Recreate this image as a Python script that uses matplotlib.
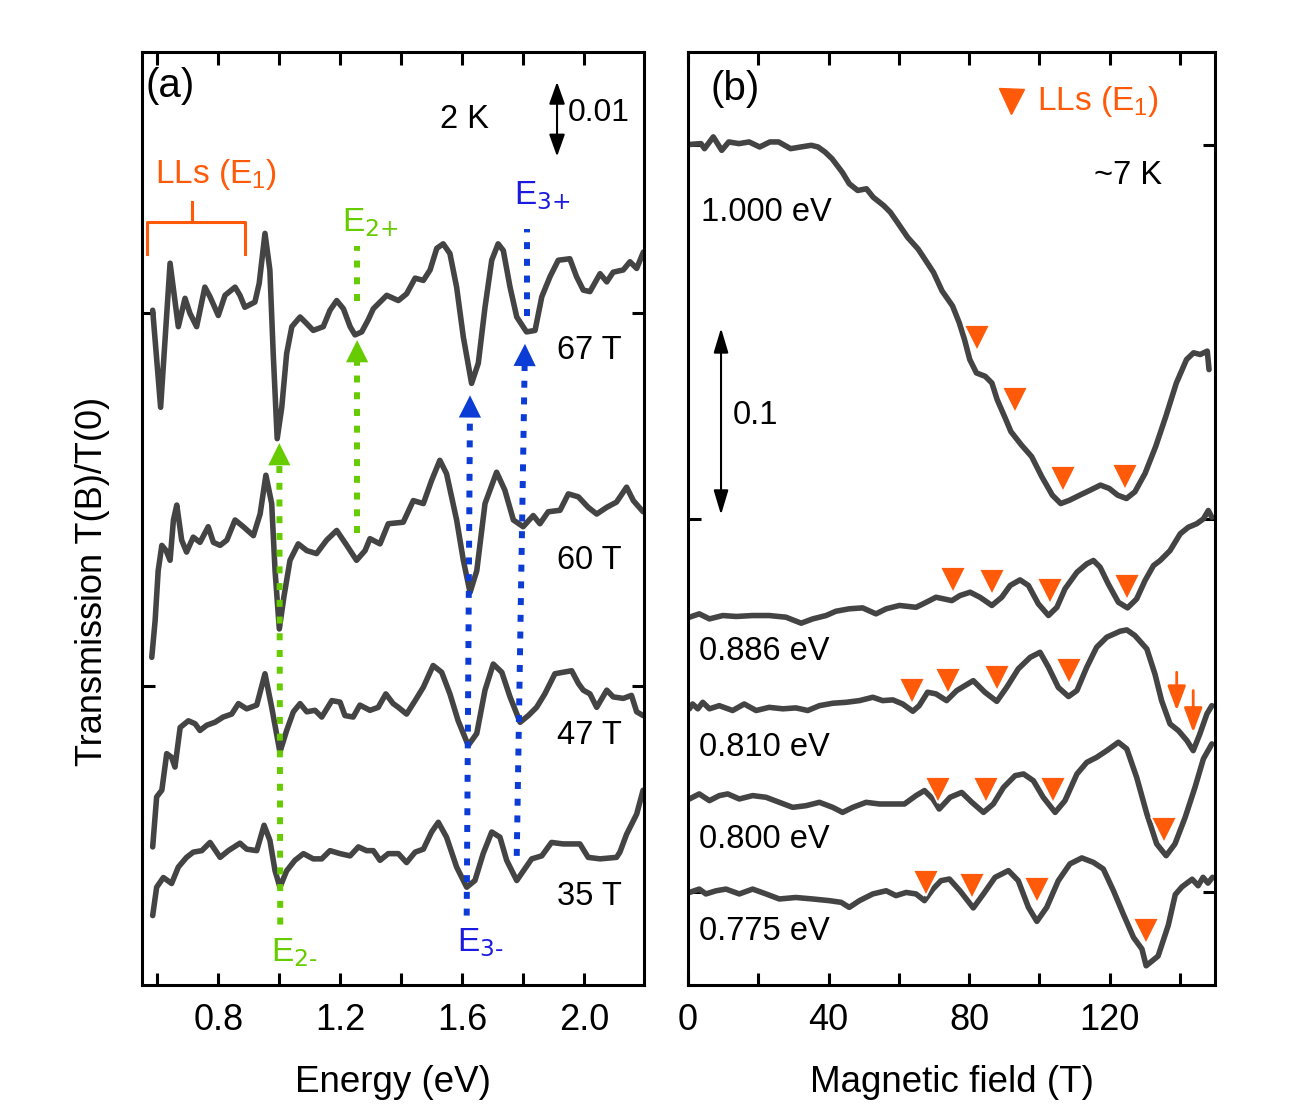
import matplotlib
matplotlib.use("Agg")
import numpy as np
import matplotlib.pyplot as plt
from matplotlib.ticker import MultipleLocator, FixedLocator, NullFormatter, FormatStrFormatter

plt.rcParams['font.family'] = ['Liberation Sans', 'DejaVu Sans']
plt.rcParams['mathtext.default'] = 'regular'

CURVE = '#444444'
ORANGE = '#ff5a0a'
GREEN = '#66cc00'
BLUE = '#0b3cd6'
TXT_BLUE = '#1a1ae0'

# ---------------- panel (a): energy spectra at fixed field ----------------
E_67 = [0.585, 0.611, 0.642, 0.669, 0.691, 0.707, 0.729, 0.756, 0.773, 0.800, 0.822, 0.855, 0.871, 0.887,
        0.920, 0.934, 0.953, 0.969, 0.980, 0.993, 1.008, 1.024, 1.041, 1.068, 1.090, 1.111, 1.144, 1.166,
        1.188, 1.210, 1.232, 1.248, 1.270, 1.291, 1.308, 1.352, 1.390, 1.417, 1.445, 1.472, 1.494, 1.516,
        1.537, 1.559, 1.581, 1.603, 1.630, 1.652, 1.674, 1.696, 1.717, 1.734, 1.756, 1.778, 1.810, 1.838,
        1.860, 1.887, 1.914, 1.952, 1.974, 1.996, 2.018, 2.051, 2.073, 2.094, 2.127, 2.149, 2.171, 2.193]
T_67 = [1.0504, 1.0374, 1.0567, 1.0482, 1.0520, 1.0500, 1.0482, 1.0535, 1.0522, 1.0497, 1.0524, 1.0535,
        1.0524, 1.0508, 1.0515, 1.0540, 1.0607, 1.0558, 1.0446, 1.0332, 1.0374, 1.0446, 1.0482, 1.0495,
        1.0486, 1.0477, 1.0482, 1.0504, 1.0517, 1.0506, 1.0482, 1.0471, 1.0475, 1.0491, 1.0506, 1.0524,
        1.0517, 1.0526, 1.0547, 1.0544, 1.0558, 1.0587, 1.0593, 1.0580, 1.0535, 1.0468, 1.0406, 1.0433,
        1.0508, 1.0571, 1.0593, 1.0584, 1.0535, 1.0495, 1.0475, 1.0477, 1.0522, 1.0549, 1.0571, 1.0573,
        1.0549, 1.0531, 1.0529, 1.0553, 1.0542, 1.0555, 1.0558, 1.0569, 1.0560, 1.0582]

E_60 = [0.582, 0.593, 0.603, 0.615, 0.629, 0.642, 0.653, 0.664, 0.680, 0.696, 0.718, 0.740, 0.767, 0.784,
        0.806, 0.828, 0.855, 0.882, 0.915, 0.937, 0.956, 0.975, 0.986, 1.000, 1.015, 1.035, 1.062, 1.090,
        1.122, 1.155, 1.188, 1.221, 1.253, 1.281, 1.297, 1.330, 1.357, 1.406, 1.439, 1.472, 1.499, 1.526,
        1.548, 1.581, 1.603, 1.625, 1.647, 1.674, 1.712, 1.739, 1.767, 1.799, 1.832, 1.854, 1.881, 1.920,
        1.947, 1.980, 2.012, 2.040, 2.073, 2.105, 2.138, 2.160, 2.192]
T_60 = [1.0039, 1.0088, 1.0155, 1.0189, 1.0182, 1.0169, 1.0223, 1.0243, 1.0196, 1.0180, 1.0200, 1.0193,
        1.0214, 1.0193, 1.0189, 1.0196, 1.0223, 1.0214, 1.0202, 1.0231, 1.0283, 1.0245, 1.0155, 1.0077,
        1.0120, 1.0169, 1.0191, 1.0182, 1.0178, 1.0196, 1.0209, 1.0189, 1.0169, 1.0182, 1.0198, 1.0191,
        1.0218, 1.0220, 1.0249, 1.0245, 1.0276, 1.0303, 1.0285, 1.0223, 1.0169, 1.0126, 1.0155, 1.0245,
        1.0287, 1.0263, 1.0223, 1.0214, 1.0229, 1.0218, 1.0234, 1.0236, 1.0258, 1.0254, 1.0240, 1.0231,
        1.0240, 1.0247, 1.0267, 1.0249, 1.0234]

E_47 = [0.585, 0.598, 0.615, 0.631, 0.647, 0.658, 0.675, 0.702, 0.724, 0.740, 0.762, 0.789, 0.816, 0.844,
        0.866, 0.893, 0.926, 0.953, 0.975, 1.002, 1.024, 1.046, 1.068, 1.090, 1.117, 1.139, 1.172, 1.199,
        1.215, 1.242, 1.264, 1.297, 1.324, 1.349, 1.373, 1.390, 1.417, 1.445, 1.472, 1.504, 1.532, 1.559,
        1.586, 1.619, 1.647, 1.674, 1.701, 1.729, 1.756, 1.789, 1.816, 1.843, 1.870, 1.903, 1.930, 1.958,
        1.980, 1.996, 2.018, 2.040, 2.073, 2.094, 2.127, 2.154, 2.171, 2.192]
T_47 = [0.9785, 0.9852, 0.9861, 0.9910, 0.9905, 0.9892, 0.9945, 0.9954, 0.9950, 0.9941, 0.9948, 0.9952,
        0.9959, 0.9963, 0.9977, 0.9970, 0.9975, 1.0017, 0.9972, 0.9912, 0.9941, 0.9966, 0.9977, 0.9966,
        0.9968, 0.9959, 0.9981, 0.9979, 0.9961, 0.9959, 0.9975, 0.9968, 0.9972, 0.9990, 0.9977, 0.9972,
        0.9963, 0.9981, 0.9999, 1.0028, 1.0019, 0.9990, 0.9954, 0.9921, 0.9937, 0.9995, 1.0030, 1.0019,
        0.9986, 0.9952, 0.9961, 0.9972, 0.9990, 1.0017, 1.0019, 1.0021, 1.0004, 0.9995, 0.9990, 0.9972,
        0.9995, 0.9986, 0.9984, 0.9988, 0.9966, 0.9961]

E_35 = [0.585, 0.598, 0.620, 0.647, 0.669, 0.696, 0.718, 0.746, 0.773, 0.806, 0.833, 0.871, 0.893, 0.926,
        0.950, 0.969, 0.986, 1.002, 1.024, 1.051, 1.079, 1.111, 1.139, 1.166, 1.199, 1.232, 1.259, 1.286,
        1.308, 1.330, 1.357, 1.390, 1.417, 1.445, 1.472, 1.499, 1.521, 1.548, 1.581, 1.614, 1.641, 1.668,
        1.696, 1.723, 1.745, 1.778, 1.805, 1.827, 1.860, 1.892, 1.930, 1.985, 2.012, 2.051, 2.105, 2.116,
        2.138, 2.171, 2.192]
T_35 = [0.9693, 0.9731, 0.9744, 0.9736, 0.9758, 0.9771, 0.9778, 0.9780, 0.9791, 0.9771, 0.9780, 0.9790,
        0.9782, 0.9780, 0.9814, 0.9794, 0.9753, 0.9731, 0.9753, 0.9767, 0.9776, 0.9769, 0.9769, 0.9780,
        0.9776, 0.9773, 0.9785, 0.9780, 0.9780, 0.9767, 0.9776, 0.9776, 0.9764, 0.9778, 0.9782, 0.9805,
        0.9818, 0.9798, 0.9758, 0.9731, 0.9740, 0.9776, 0.9805, 0.9798, 0.9767, 0.9740, 0.9756, 0.9769,
        0.9773, 0.9791, 0.9789, 0.9789, 0.9771, 0.9769, 0.9771, 0.9778, 0.9802, 0.9829, 0.9861]

FIELD_LABELS = ['67 T', '60 T', '47 T', '35 T']
FIELD_LABEL_Y = [1.0450, 1.0169, 0.9934, 0.9718]

# transition markers: (E start, T start, E end, T end, arrow head?)
GREEN_LINES = [(1.003, 0.9681, 1.000, 1.0326, True),
               (1.255, 1.0205, 1.255, 1.0464, True),
               (1.255, 1.0517, 1.255, 1.0590, False)]
BLUE_LINES = [(1.614, 0.9693, 1.625, 1.0390, True),
              (1.778, 0.9773, 1.805, 1.0459, True),
              (1.812, 1.0496, 1.812, 1.0613, False)]

BRACKET_E = [0.566, 0.566, 0.886, 0.886]
BRACKET_T = [1.0579, 1.0622, 1.0622, 1.0579]
BRACKET_MID_E = [0.714, 0.714]
BRACKET_MID_T = [1.0622, 1.0649]

# ---------------- panel (b): field sweeps at fixed energy ----------------
B_1000 = [0, 3.7, 4.7, 7.2, 9.6, 11.6, 14.5, 17.4, 20.4, 23.3, 25.8, 29.2, 32.1, 35.1, 37.0, 39.0, 41.0,
          43.9, 45.9, 48.3, 50.8, 52.7, 55.7, 57.6, 59.6, 62.5, 65.5, 67.4, 69.9, 72.3, 75.3, 77.2, 78.7,
          80.2, 82.1, 84.6, 86.5, 88.0, 90.5, 91.9, 94.9, 97.8, 100.7, 103.7, 106.1, 108.6, 111.5, 114.5,
          117.4, 119.9, 122.3, 124.8, 127.2, 130.1, 133.1, 136.0, 139.0, 141.9, 143.9, 145.8, 147.8, 148.3]
T_1000 = [1.2004, 1.2009, 1.1982, 1.2045, 1.1973, 1.2018, 1.2009, 1.2018, 1.1991, 1.2018, 1.2018, 1.1982,
          1.1991, 1.2000, 1.1991, 1.1964, 1.1928, 1.1856, 1.1794, 1.1758, 1.1767, 1.1722, 1.1677, 1.1641,
          1.1587, 1.1507, 1.1444, 1.1390, 1.1318, 1.1220, 1.1139, 1.1049, 1.0959, 1.0852, 1.0780, 1.0762,
          1.0726, 1.0637, 1.0529, 1.0466, 1.0394, 1.0332, 1.0224, 1.0125, 1.0080, 1.0098, 1.0125, 1.0152,
          1.0179, 1.0161, 1.0125, 1.0107, 1.0143, 1.0242, 1.0385, 1.0547, 1.0726, 1.0852, 1.0888, 1.0879,
          1.0897, 1.0798]

B_886 = [0.4, 3.2, 6.1, 9.9, 13.7, 18.4, 23.1, 27.9, 32.2, 35.5, 39.3, 42.1, 45.9, 49.7, 53.5, 56.4, 60.2,
         64.9, 67.8, 70.6, 75.1, 77.4, 80.3, 83.1, 86.5, 89.3, 91.7, 94.5, 96.9, 99.7, 102.6, 105.0, 107.3,
         110.7, 113.5, 115.4, 117.3, 119.6, 122.5, 125.1, 127.7, 130.1, 132.5, 134.4, 137.2, 140.1, 142.4,
         144.8, 146.7, 148.1, 149.1]
T_886 = [0.9471, 0.9489, 0.9462, 0.9480, 0.9475, 0.9480, 0.9480, 0.9471, 0.9439, 0.9462, 0.9480, 0.9503,
         0.9516, 0.9521, 0.9489, 0.9516, 0.9534, 0.9524, 0.9551, 0.9578, 0.9560, 0.9587, 0.9605, 0.9578,
         0.9534, 0.9578, 0.9641, 0.9671, 0.9641, 0.9543, 0.9480, 0.9524, 0.9623, 0.9712, 0.9757, 0.9775,
         0.9739, 0.9650, 0.9551, 0.9521, 0.9569, 0.9668, 0.9748, 0.9775, 0.9828, 0.9918, 0.9953, 0.9972,
         0.9998, 1.0043, 1.0007]

B_810 = [0.4, 1.3, 2.8, 4.2, 6.1, 8.9, 12.7, 16.0, 19.4, 23.1, 27.0, 30.7, 34.1, 37.4, 41.2, 45.0, 48.8,
         52.6, 55.4, 58.3, 61.1, 64.0, 65.8, 68.2, 70.6, 73.6, 76.5, 81.2, 84.5, 87.9, 90.7, 94.0, 97.4,
         100.2, 102.6, 105.4, 108.3, 110.7, 113.5, 116.3, 119.2, 123.0, 124.9, 127.2, 130.6, 132.9, 134.8,
         137.2, 139.6, 142.0, 143.8, 145.7, 147.7, 149.1]
T_810 = [0.8980, 0.9006, 0.8980, 0.9015, 0.8980, 0.8997, 0.8971, 0.9006, 0.8971, 0.8988, 0.8980, 0.8985,
         0.8971, 0.8997, 0.9010, 0.9015, 0.9024, 0.9042, 0.9024, 0.9028, 0.9006, 0.8967, 0.8997, 0.9069,
         0.9060, 0.9024, 0.9078, 0.9131, 0.9069, 0.9020, 0.9095, 0.9194, 0.9256, 0.9283, 0.9203, 0.9095,
         0.9046, 0.9078, 0.9203, 0.9310, 0.9364, 0.9396, 0.9403, 0.9373, 0.9301, 0.9167, 0.9024, 0.8899,
         0.8863, 0.8810, 0.8756, 0.8846, 0.8953, 0.8997]

B_800 = [0.4, 3.2, 6.1, 8.9, 11.3, 14.6, 18.4, 22.2, 26.0, 29.8, 33.6, 37.4, 41.2, 44.0, 46.9, 50.7, 54.5,
         58.3, 61.6, 64.9, 67.3, 69.7, 71.5, 74.6, 77.9, 80.8, 84.1, 86.9, 89.8, 93.1, 95.5, 98.3, 101.1,
         104.5, 107.3, 110.7, 113.5, 116.3, 119.2, 122.5, 124.9, 127.7, 130.6, 133.4, 136.1, 138.6, 141.5,
         144.3, 146.7, 149.1]
T_800 = [0.8497, 0.8524, 0.8488, 0.8515, 0.8524, 0.8497, 0.8515, 0.8506, 0.8479, 0.8452, 0.8461, 0.8479,
         0.8452, 0.8425, 0.8452, 0.8479, 0.8470, 0.8470, 0.8470, 0.8515, 0.8542, 0.8497, 0.8443, 0.8506,
         0.8532, 0.8479, 0.8425, 0.8470, 0.8559, 0.8622, 0.8631, 0.8595, 0.8506, 0.8425, 0.8488, 0.8631,
         0.8693, 0.8720, 0.8756, 0.8801, 0.8765, 0.8613, 0.8417, 0.8256, 0.8193, 0.8256, 0.8398, 0.8559,
         0.8712, 0.8792]

B_775 = [0.4, 3.2, 5.1, 8.0, 10.8, 14.6, 18.4, 22.2, 26.0, 30.7, 35.5, 40.2, 43.6, 45.9, 48.8, 52.6, 56.4,
         59.2, 62.1, 64.9, 67.3, 69.7, 72.0, 74.4, 77.4, 81.2, 84.1, 87.4, 91.2, 94.0, 96.9, 99.3, 102.1,
         105.4, 108.7, 112.1, 115.4, 118.2, 121.1, 123.9, 126.8, 129.2, 130.4, 133.8, 136.7, 138.7, 140.6,
         143.5, 145.2, 146.6, 148.0, 149.3]
T_775 = [0.7996, 0.8014, 0.7988, 0.8005, 0.8014, 0.7988, 0.8014, 0.7988, 0.7961, 0.7969, 0.7961, 0.7952,
         0.7943, 0.7916, 0.7952, 0.7988, 0.8005, 0.7979, 0.7996, 0.7988, 0.7952, 0.8014, 0.8059, 0.8068,
         0.8005, 0.7913, 0.7988, 0.8077, 0.8113, 0.8059, 0.7916, 0.7841, 0.7916, 0.8059, 0.8149, 0.8181,
         0.8157, 0.8122, 0.8005, 0.7880, 0.7755, 0.7693, 0.7603, 0.7655, 0.7820, 0.7985, 0.8026, 0.8067,
         0.8032, 0.8077, 0.8046, 0.8077]

ENERGY_LABELS = ['1.000 eV', '0.886 eV', '0.810 eV', '0.800 eV', '0.775 eV']
ENERGY_LABEL_B = [3.7, 3.1, 3.1, 3.1, 3.1]
ENERGY_LABEL_Y = [1.1641, 0.9287, 0.8772, 0.8279, 0.7785]

# Landau level positions (triangles)
LL_B = [82.3, 93.1, 106.8, 124.5,
        75.3, 86.4, 103.0, 125.0,
        63.8, 74.1, 87.9, 108.5,
        71.1, 84.8, 104.0, 135.5,
        67.6, 80.9, 99.4, 130.3]
LL_T = [1.0965, 1.0633, 1.0211, 1.0220,
        0.9668, 0.9659, 0.9614, 0.9632,
        0.9078, 0.9127, 0.9145, 0.9181,
        0.8547, 0.8547, 0.8547, 0.8332,
        0.8046, 0.8032, 0.8011, 0.7789]

# extra features on 0.810 eV trace (down arrows)
ARROW_B = [139.1, 143.8]
ARROW_TOP = [0.9176, 0.9078]
ARROW_TIP = [0.8971, 0.8854]

# ---------------- figure ----------------
fig = plt.figure(figsize=(13.15, 11.13), dpi=100)
ax_a = fig.add_axes([142 / 1315, 128 / 1113, 502 / 1315, 933 / 1113])
ax_b = fig.add_axes([688 / 1315, 128 / 1113, 527 / 1315, 933 / 1113])


def style(ax):
    for s in ax.spines.values():
        s.set_linewidth(2.2)
    ax.tick_params(which='both', direction='in', top=True, right=True, width=2.2,
                   length=9, labelsize=26, pad=13)


def dotted(ax, x0, y0, x1, y1, color, head):
    xb, yb = x1, y1
    if head:
        p0 = ax.transData.transform((x0, y0))
        p1 = ax.transData.transform((x1, y1))
        d = (p1 - p0) / np.hypot(*(p1 - p0))
        xb, yb = ax.transData.inverted().transform(p1 - d * 16)
        ax.annotate('', xy=(x1, y1), xytext=(x0, y0),
                    arrowprops=dict(arrowstyle='-|>,head_length=0.8,head_width=0.4',
                                    mutation_scale=20, fc=color, ec=color, lw=0,
                                    shrinkA=0, shrinkB=0), zorder=4)
    ax.plot([x0, xb], [y0, yb], color=color, lw=4.3, ls=(0, (1.17, 1.63)), zorder=3)


# ---- panel (a)
style(ax_a)
ax_a.set_xlim(0.55, 2.195)
ax_a.set_ylim(0.96, 1.085)
ax_a.xaxis.set_major_locator(MultipleLocator(0.4))
ax_a.xaxis.set_minor_locator(MultipleLocator(0.2))
ax_a.xaxis.set_major_formatter(FormatStrFormatter('%.1f'))
ax_a.yaxis.set_major_locator(FixedLocator([1.0, 1.05]))
ax_a.yaxis.set_major_formatter(NullFormatter())

for E, T in [(E_67, T_67), (E_60, T_60), (E_47, T_47), (E_35, T_35)]:
    ax_a.plot(E, T, color=CURVE, lw=4.0, solid_joinstyle='round', solid_capstyle='round', zorder=2)

for lab, y in zip(FIELD_LABELS, FIELD_LABEL_Y):
    ax_a.text(1.910, y, lab, fontsize=23.5, va='center', ha='left')

for x0, y0, x1, y1, h in GREEN_LINES:
    dotted(ax_a, x0, y0, x1, y1, GREEN, h)
for x0, y0, x1, y1, h in BLUE_LINES:
    dotted(ax_a, x0, y0, x1, y1, BLUE, h)

ax_a.text(1.205, 1.0609, r'E$_{\text{2+}}$', color=GREEN, fontsize=24, va='baseline')
ax_a.text(0.973, 0.9631, r'E$_{\text{2-}}$', color=GREEN, fontsize=24, va='baseline')
ax_a.text(1.769, 1.0645, r'E$_{\text{3+}}$', color=TXT_BLUE, fontsize=24, va='baseline')
ax_a.text(1.582, 0.9645, r'E$_{\text{3-}}$', color=TXT_BLUE, fontsize=24, va='baseline')

ax_a.plot(BRACKET_E, BRACKET_T, color=ORANGE, lw=2.2)
ax_a.plot(BRACKET_MID_E, BRACKET_MID_T, color=ORANGE, lw=2.2)
ax_a.text(0.792, 1.0674, 'LLs (E$_1$)', color=ORANGE, fontsize=24, ha='center', va='baseline')

ax_a.annotate('', xy=(1.910, 1.081), xytext=(1.910, 1.071),
              arrowprops=dict(arrowstyle='<|-|>,head_length=0.9,head_width=0.32',
                              mutation_scale=15, color='black', lw=1.5, shrinkA=0, shrinkB=0))
ax_a.text(1.946, 1.0768, '0.01', fontsize=23, va='center', ha='left')
ax_a.text(1.608, 1.0760, '2 K', fontsize=23.5, va='center', ha='center')
ax_a.text(0.006, 0.9635, '(a)', transform=ax_a.transAxes, fontsize=29, va='center', ha='left')

ax_a.set_xlabel('Energy (eV)', fontsize=26.5)
ax_a.xaxis.set_label_coords(0.5, -0.105)
ax_a.xaxis.label.set_va('center')

# ---- panel (b)
style(ax_b)
ax_b.set_xlim(0, 150)
ax_b.set_ylim(0.75, 1.25)
ax_b.xaxis.set_major_locator(MultipleLocator(40))
ax_b.xaxis.set_minor_locator(MultipleLocator(20))
ax_b.yaxis.set_major_locator(FixedLocator([0.8, 1.0, 1.2]))
ax_b.yaxis.set_major_formatter(NullFormatter())

for B, T in [(B_1000, T_1000), (B_886, T_886), (B_810, T_810), (B_800, T_800), (B_775, T_775)]:
    ax_b.plot(B, T, color=CURVE, lw=4.0, solid_joinstyle='round', solid_capstyle='round', zorder=2)

ax_b.plot(LL_B, LL_T, 'v', ms=19, color=ORANGE, mec='white', mew=1.3, zorder=5)
for b, t0, t1 in zip(ARROW_B, ARROW_TOP, ARROW_TIP):
    ax_b.annotate('', xy=(b, t1), xytext=(b, t0),
                  arrowprops=dict(arrowstyle='-|>,head_length=0.75,head_width=0.28',
                                  mutation_scale=20, color=ORANGE, lw=2.0, shrinkA=0, shrinkB=0),
                  zorder=5)

for lab, b, y in zip(ENERGY_LABELS, ENERGY_LABEL_B, ENERGY_LABEL_Y):
    ax_b.text(b, y, lab, fontsize=23.5, va='center', ha='left')

ax_b.plot([91.9], [1.2239], 'v', ms=18, color=ORANGE)
ax_b.text(99.3, 1.2236, 'LLs (E$_1$)', color=ORANGE, fontsize=24, va='center', ha='left')
ax_b.text(125.2, 1.1839, '~7 K', fontsize=23.5, va='center', ha='center')

ax_b.annotate('', xy=(9.4, 1.102), xytext=(9.4, 1.002),
              arrowprops=dict(arrowstyle='<|-|>,head_length=1.0,head_width=0.3',
                              mutation_scale=15, color='black', lw=1.5, shrinkA=0, shrinkB=0))
ax_b.text(12.8, 1.0552, '0.1', fontsize=23.5, va='center', ha='left')
ax_b.text(0.042, 0.960, '(b)', transform=ax_b.transAxes, fontsize=29, va='center', ha='left')

ax_b.set_xlabel('Magnetic field (T)', fontsize=26.5)
ax_b.xaxis.set_label_coords(0.5, -0.105)
ax_b.xaxis.label.set_va('center')

fig.text(92 / 1315, 1 - 581 / 1113, 'Transmission T(B)/T(0)', rotation=90,
         ha='center', va='center', fontsize=26)

fig.savefig('out.png', dpi=100)
